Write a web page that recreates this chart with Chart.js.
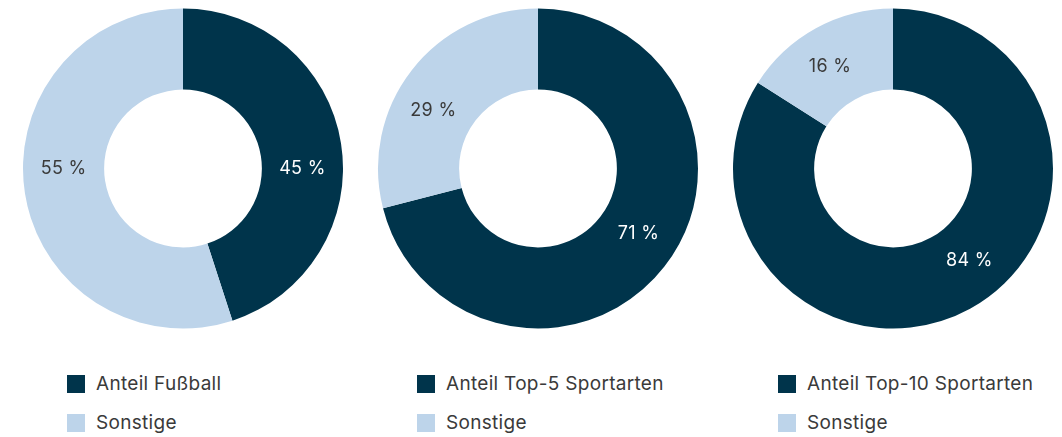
<!DOCTYPE html>
<html>
<head>
<meta charset="utf-8">
<script src="https://cdn.jsdelivr.net/npm/chart.js@4"></script>
<style>
	body { margin: 0; background: #fff; width: 1062px; height: 437px; position: relative; overflow: hidden; font-family: Inter, "Noto Sans", sans-serif; }
	.box { position: absolute; top: 0; width: 338px; height: 337px; }
	.legend { position: absolute; top: 372px; font-size: 19px; letter-spacing: 0.3px; color: #3a3a3a; }
	.legend div { height: 39px; display: flex; align-items: flex-start; }
	.legend span.sw { display: inline-block; width: 18px; height: 18px; margin-right: 11px; margin-top: 3px; }
</style>
</head>
<body>
<div class="box" style="left:14px"><canvas id="c1"></canvas></div>
<div class="box" style="left:369px"><canvas id="c2"></canvas></div>
<div class="box" style="left:724px"><canvas id="c3"></canvas></div>
<div class="legend" id="l1" style="left:67px"></div>
<div class="legend" id="l2" style="left:417px"></div>
<div class="legend" id="l3" style="left:778px"></div>
<script>
const labels1 = ['Anteil Fußball', 'Sonstige'];
const labels2 = ['Anteil Top-5 Sportarten', 'Sonstige'];
const labels3 = ['Anteil Top-10 Sportarten', 'Sonstige'];
const values1 = [45, 55];
const values2 = [71, 29];
const values3 = [84, 16];
const sliceColors = ['#00344b', '#bdd4ea'];
const textColors = ['#ffffff', '#3a3a3a'];

// Prozentwerte auf den Ring schreiben, Winkel etwas verschoben wie im Original
const valueLabels = {
	id: 'valueLabels',
	afterDatasetsDraw(chart, args, opts) {
		const c = chart.ctx;
		const meta = chart.getDatasetMeta(0);
		const shift = opts.shift || [];
		c.save();
		c.font = '18px Inter, "Noto Sans", sans-serif';
		c.letterSpacing = '0.3px';
		c.textAlign = 'center';
		c.textBaseline = 'middle';
		meta.data.forEach((arc, i) => {
			const a = (arc.startAngle + arc.endAngle) / 2 + (shift[i] || 0) * Math.PI / 180;
			const r = (arc.innerRadius + arc.outerRadius) / 2;
			c.fillStyle = textColors[i];
			c.fillText(chart.data.datasets[0].data[i] + ' %', arc.x + Math.cos(a) * r, arc.y + Math.sin(a) * r);
		});
		c.restore();
	}
};

function makeChart(id, labels, values, shift) {
	new Chart(document.getElementById(id), {
		type: 'doughnut',
		data: {
			labels: labels,
			datasets: [{
				data: values,
				backgroundColor: sliceColors,
				borderWidth: 0
			}]
		},
		options: {
			responsive: true,
			maintainAspectRatio: false,
			animation: false,
			radius: 160,
			cutout: '49.3%',
			plugins: {
				legend: { display: false },
				tooltip: { enabled: false },
				valueLabels: { shift: shift }
			}
		},
		plugins: [valueLabels]
	});
}

function makeLegend(id, labels) {
	let html = '';
	labels.forEach((l, i) => {
		html += `<div><span class="sw" style="background:${sliceColors[i]}"></span>${l}</div>`;
	});
	document.getElementById(id).innerHTML = html;
}

makeChart('c1', labels1, values1, [9, 9]);
makeChart('c2', labels2, values2, [-5, -9]);
makeChart('c3', labels3, values3, [-11, -3]);
makeLegend('l1', labels1);
makeLegend('l2', labels2);
makeLegend('l3', labels3);
</script>
</body>
</html>
